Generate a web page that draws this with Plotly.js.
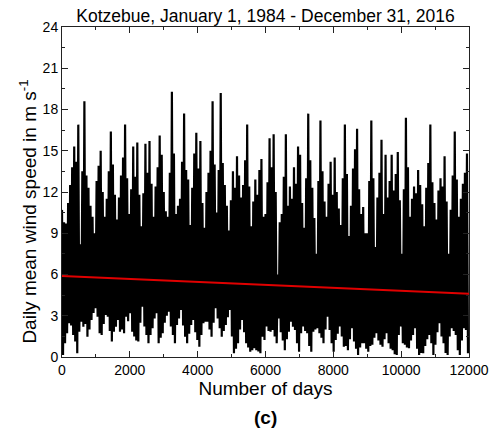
<!DOCTYPE html>
<html>
<head>
<meta charset="utf-8">
<script src="https://cdn.plot.ly/plotly-3.0.1.min.js"></script>
<style>
  html, body { margin: 0; padding: 0; background: #fff; }
  #chart { width: 491px; height: 430px; }
</style>
</head>
<body>
<div id="chart"></div>
<script>
// Day step between successive readings (the series zigzags between high and low days)
const dayStep = 30;

// High-wind days (read from the upper envelope), one every 60 days starting at day 0
const highSpeeds = [
  10.7, 9.8, 9.7, 11.2, 12.5, 13.8, 15.3, 14.2, 16.9, 8.2,
  13.5, 18.6, 13.2, 12.3, 11.0, 10.2, 9.0, 12.8, 13.9, 15.0,
  12.0, 10.2, 11.5, 13.5, 16.4, 14.0, 11.8, 10.0, 11.6, 13.2,
  14.5, 16.9, 13.0, 10.4, 12.2, 15.3, 13.1, 15.6, 11.8, 9.5,
  11.9, 15.5, 13.4, 15.7, 12.6, 10.2, 12.4, 13.8, 16.1, 14.7,
  12.0, 10.6, 10.2, 13.4, 19.3, 14.8, 10.4, 11.0, 11.5, 14.2,
  17.7, 13.6, 12.9, 9.6, 12.3, 14.8, 16.3, 13.7, 15.7, 11.2,
  9.4, 12.0, 13.4, 15.0, 18.6, 14.0, 10.5, 13.6, 19.2, 14.1,
  12.5, 11.0, 9.2, 11.4, 13.5, 12.3, 14.6, 13.2, 11.6, 12.5,
  14.3, 16.9, 12.4, 9.5, 11.3, 12.9, 11.8, 13.6, 14.4, 10.2,
  10.4, 12.7, 15.9, 13.8, 16.2, 12.0, 6.0, 9.8, 10.4, 13.1,
  16.2, 11.0, 12.4, 11.5, 13.8, 12.6, 15.3, 14.7, 11.2, 9.4,
  13.0, 17.7, 14.3, 12.3, 10.1, 7.5, 12.8, 17.2, 13.5, 11.3,
  10.2, 12.6, 14.2, 11.8, 14.5, 12.0, 10.8, 9.6, 13.0, 16.9,
  13.3, 8.8, 11.0, 13.7, 15.1, 16.6, 12.2, 10.4, 10.9, 9.0,
  9.0, 12.8, 17.2, 13.0, 8.0, 11.6, 13.4, 15.8, 10.4, 14.7,
  11.6, 12.8, 14.7, 12.1, 13.3, 14.9, 11.4, 7.5, 12.2, 17.4,
  13.8, 10.2, 11.5, 12.4, 11.9, 13.6, 12.5, 11.1, 9.5, 12.3,
  14.1, 16.9, 12.7, 11.2, 10.0, 12.1, 13.0, 12.4, 14.6, 11.3,
  7.5, 10.7, 13.2, 16.4, 12.9, 10.2, 11.5, 12.6, 13.4, 14.8
];

// Low-wind days (read from the lower envelope), one every 60 days starting at day 30
const lowSpeeds = [
  0.15, 1.0, 1.72, 2.45, 2.3, 1.6, 1.12, 0.27, 1.84, 2.57,
  2.2, 2.4, 1.48, 2.0, 2.69, 3.2, 3.54, 2.93, 1.72, 1.6,
  2.4, 3.05, 2.93, 1.9, 1.12, 1.84, 2.2, 2.69, 1.84, 2.0,
  1.72, 2.93, 2.6, 3.18, 1.84, 1.5, 1.2, 1.12, 2.5, 3.66,
  2.21, 1.6, 1.0, 1.6, 2.09, 2.8, 3.18, 1.0, 1.4, 1.72,
  2.5, 3.0, 3.3, 2.21, 1.6, 1.0, 2.33, 2.8, 3.42, 2.3,
  1.48, 1.0, 1.7, 2.33, 2.69, 1.8, 1.24, 0.75, 1.6, 2.45,
  2.57, 2.57, 2.0, 1.48, 2.5, 3.54, 2.8, 2.09, 1.48, 1.9,
  2.33, 2.9, 3.42, 1.5, 0.27, 0.6, 1.0, 2.0, 2.69, 1.8,
  1.0, 0.7, 0.39, 0.5, 0.63, 0.5, 0.4, 0.27, 1.48, 1.24,
  2.21, 1.9, 1.84, 1.96, 1.5, 1.0, 2.8, 1.8, 1.2, 0.5,
  1.3, 1.84, 2.57, 2.2, 1.96, 1.0, 0.39, 1.72, 2.21, 1.9,
  1.72, 0.8, 0.39, 1.84, 2.0, 2.09, 1.72, 1.4, 1.0, 2.0,
  2.93, 1.96, 1.0, 0.39, 1.24, 1.7, 2.21, 1.5, 0.75, 0.8,
  0.5, 1.3, 2.09, 1.12, 0.6, 0.15, 0.7, 1.0, 1.0, 0.6,
  0.39, 0.8, 0.9, 1.4, 1.72, 1.2, 0.9, 0.75, 1.3, 1.72,
  1.0, 0.6, 0.5, 0.2, 0.15, 1.6, 2.21, 1.0, 0.9, 0.7,
  0.63, 1.2, 1.6, 2.09, 0.6, 0.15, 0.3, 0.27, 0.8, 1.3,
  1.6, 1.0, 0.15, 0.9, 1.8, 2.45, 1.5, 1.0, 0.3, 0.15,
  1.5, 2.09, 1.9, 1.6, 0.5, 0.15, 1.2, 2.09, 1.96, 0.27
];

// Linear trend (red line) end points
const trendDays = [0, 12000];
const trendSpeeds = [5.9, 4.6];

// Axis ticks
const xTickVals = [0, 2000, 4000, 6000, 8000, 10000, 12000];
const yTickVals = [0, 3, 6, 9, 12, 15, 18, 21, 24];

// Build the daily series (alternating high/low readings)
const days = [];
const speeds = [];
for (let i = 0; i < highSpeeds.length; i++) {
  days.push(i * 2 * dayStep);
  speeds.push(highSpeeds[i]);
  if (i < lowSpeeds.length) {
    days.push(i * 2 * dayStep + dayStep);
    speeds.push(lowSpeeds[i]);
  }
}

const FONT = 'Liberation Sans, Arial, sans-serif';

const traces = [
  {
    x: days, y: speeds, type: 'scatter', mode: 'lines',
    line: { color: '#000000', width: 2.2 },
    name: 'Daily mean wind speed', hoverinfo: 'x+y'
  },
  {
    x: trendDays, y: trendSpeeds, type: 'scatter', mode: 'lines',
    line: { color: '#e00000', width: 2 },
    name: 'Linear trend'
  }
];

const axisCommon = {
  showline: true, linecolor: '#222', linewidth: 1, mirror: 'allticks',
  ticks: 'inside', ticklen: 6, tickwidth: 1, tickcolor: '#222',
  showgrid: false, zeroline: false,
  tickfont: { family: FONT, size: 14, color: '#000' }
};

const layout = {
  width: 491, height: 430,
  margin: { l: 62, r: 22, t: 27, b: 73 },
  paper_bgcolor: '#fff', plot_bgcolor: '#fff',
  showlegend: false,
  title: {
    text: 'Kotzebue, January 1, 1984 - December 31, 2016',
    font: { family: FONT, size: 17.5, color: '#000' },
    x: 0.5, xref: 'paper', y: 0.962, yanchor: 'middle'
  },
  xaxis: Object.assign({}, axisCommon, {
    range: [0, 12000], tickvals: xTickVals, ticktext: xTickVals.map(String),
    minor: { ticks: 'inside', ticklen: 3, dtick: 1000, tick0: 0, tickcolor: '#222' },
    title: { text: 'Number of days', font: { family: FONT, size: 19, color: '#000' }, standoff: 4 }
  }),
  yaxis: Object.assign({}, axisCommon, {
    range: [0, 24], tickvals: yTickVals, ticktext: yTickVals.map(String),
    minor: { ticks: 'inside', ticklen: 3, dtick: 1.5, tick0: 0, tickcolor: '#222' }
  }),
  annotations: [
    {
      text: 'Daily mean wind speed in m s<sup>-1</sup>', textangle: -90,
      xref: 'paper', yref: 'paper', x: -0.084, y: 0.44,
      xanchor: 'center', yanchor: 'middle', showarrow: false,
      font: { family: FONT, size: 19, color: '#000' }
    },
    {
      text: '<b>(c)</b>', xref: 'paper', yref: 'paper', x: 0.5, y: -0.183,
      xanchor: 'center', yanchor: 'middle', showarrow: false,
      font: { family: FONT, size: 19, color: '#000' }
    }
  ]
};

Plotly.newPlot('chart', traces, layout, { staticPlot: true, displayModeBar: false });
</script>
</body>
</html>
